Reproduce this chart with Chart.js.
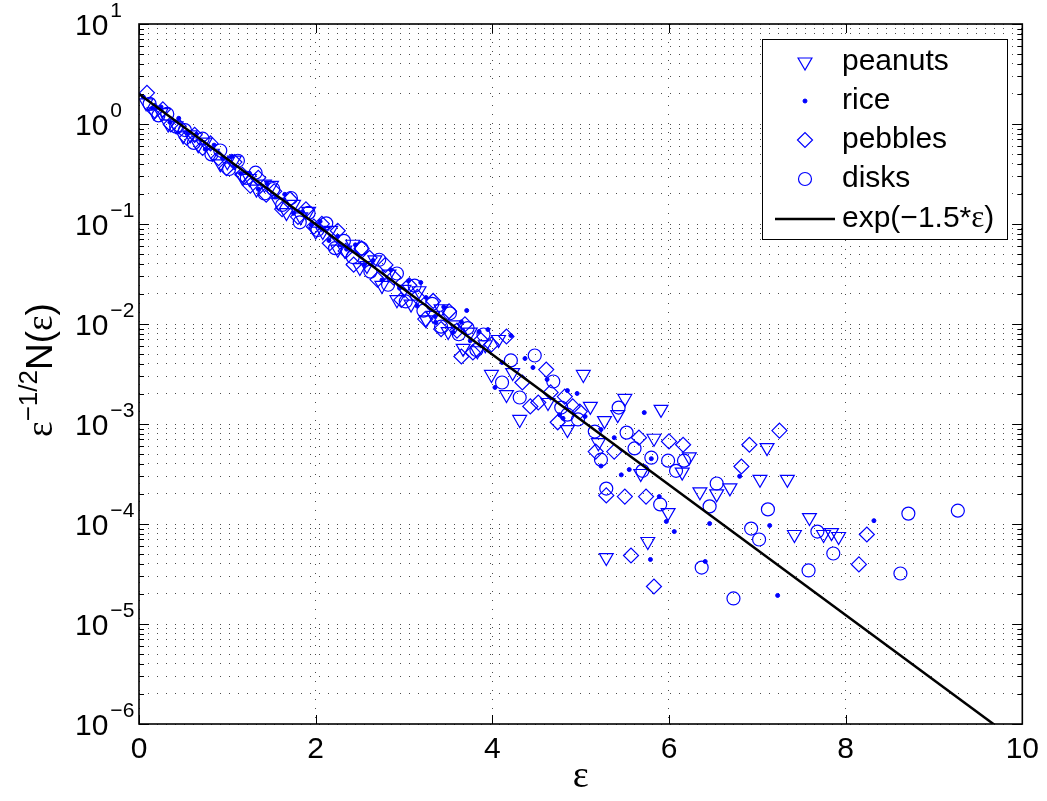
<!DOCTYPE html>
<html>
<head>
<meta charset="utf-8">
<script src="https://cdn.jsdelivr.net/npm/chart.js@4.4.0/dist/chart.umd.min.js"></script>
<style>
html,body{margin:0;padding:0;background:#fff;}
#wrap{width:1047px;height:801px;position:relative;}
</style>
</head>
<body>
<div id="wrap"><canvas id="c" width="1047" height="801"></canvas></div>
<script>
// ---------------- data ----------------
const peanutsX = [0.08,0.17,0.25,0.33,0.42,0.50,0.58,0.67,0.75,0.83,0.92,1.00,1.08,1.17,1.25,1.33,1.42,1.50,1.58,1.67,
  1.75,1.83,1.92,2.00,2.08,2.17,2.25,2.33,2.42,2.50,2.58,2.67,2.75,2.83,2.92,3.00,3.08,3.17,3.25,3.33,
  3.42,3.50,3.58,3.67,3.75,3.83,3.92,
  3.99,4.07,4.16,4.23,4.31,4.63,4.85,5.03,5.11,5.20,5.27,5.29,5.42,5.50,5.68,5.76,5.83,5.91,5.99,6.15,
  6.23,6.35,6.54,6.69,7.03,7.11,7.34,7.42,7.59,7.75,7.84,7.92];
const peanutsY = [1.63,1.32,1.30,1.00,0.96,0.76,0.78,0.62,0.66,0.51,0.40,0.42,0.435,0.294,0.285,0.223,0.25,0.243,0.165,0.130,
  0.157,0.118,0.134,0.085,0.084,0.0865,0.056,0.0547,0.0627,0.0367,0.0384,0.0438,0.0243,0.0315,0.0175,0.0222,0.0158,0.0215,0.0110,0.0122,
  0.0142,0.0084,0.0098,0.0057,0.0083,0.0054,0.0062,
  0.00313,0.0070,0.00197,0.00327,0.00111,0.00164,0.00088,0.00313,0.0015,0.00065,0.00108,0.0000462,0.00124,0.0018,0.00032,0.0000668,0.00072,0.0014,0.00013,0.00033,
  0.00047,0.00021,0.0002,0.00023,0.00028,0.00058,0.00028,0.0000785,0.000116,0.0000785,0.000082,0.000075];

const riceX = [0.05,0.15,0.25,0.35,0.45,0.55,0.65,0.75,0.85,0.95,1.05,1.15,1.25,1.35,1.45,1.55,1.65,1.75,1.85,1.95,
  2.05,2.15,2.25,2.35,2.45,2.55,2.65,2.75,2.85,2.95,3.05,3.15,3.25,3.35,3.45,3.55,3.65,3.75,3.85,
  3.19,3.36,3.71,
  3.95,4.03,4.11,4.21,4.37,4.46,4.62,4.76,4.80,4.85,4.96,5.05,5.23,5.23,5.38,5.46,5.55,5.72,5.79,5.80,
  5.89,5.97,6.06,6.41,6.46,6.80,7.14,7.23,8.32];
const riceY = [1.86,1.44,1.48,1.04,1.14,0.81,0.79,0.56,0.615,0.457,0.476,0.32,0.322,0.224,0.254,0.186,0.198,0.128,0.1325,0.0985,
  0.106,0.0684,0.0754,0.056,0.0619,0.0393,0.0432,0.0275,0.0349,0.0228,0.0269,0.0151,0.0184,0.0119,0.0148,0.0082,0.0105,0.0068,0.0084,
  0.026,0.01035,0.01365,
  0.0088,0.00232,0.00412,0.00767,0.00452,0.00367,0.00279,0.00124,0.00114,0.00216,0.00202,0.00119,0.00088,0.00038,0.00073,0.00031,0.00035,0.0013,0.0000442,0.00045,
  0.000188,0.000106,0.000084,0.0000422,0.000101,0.0003,0.0000966,0.0000193,0.000108];

const pebblesX = [0.09,0.18,0.27,0.36,0.45,0.54,0.63,0.72,0.81,0.90,0.99,1.08,1.17,1.26,1.35,1.44,1.53,1.62,1.71,1.80,
  1.89,1.98,2.07,2.16,2.25,2.34,2.43,2.52,2.61,2.70,2.79,2.88,2.97,3.06,3.15,3.24,3.33,3.42,3.51,3.60,
  3.69,3.78,3.87,
  3.65,3.99,4.16,4.34,4.43,4.52,4.61,4.66,4.74,4.82,4.91,4.99,5.17,5.29,5.38,5.50,5.57,5.66,5.74,5.83,
  6.00,6.16,6.82,6.91,7.25,8.15,8.24];
const pebblesY = [2.05,1.35,1.40,0.99,0.95,0.73,0.78,0.578,0.64,0.456,0.362,0.416,0.311,0.242,0.29,0.196,0.212,0.141,0.177,0.118,
  0.140,0.094,0.1004,0.0642,0.0856,0.0538,0.0392,0.057,0.0459,0.0278,0.039,0.0293,0.0174,0.0244,0.0187,0.0112,0.017,0.0089,0.0134,0.0086,
  0.0099,0.0052,0.0069,
  0.00473,0.00624,0.0075,0.0026,0.0015,0.00164,0.0035,0.00207,0.00104,0.00188,0.0015,0.00133,0.00053,0.000193,0.00053,0.000188,0.0000484,0.00073,0.000188,0.0000237,
  0.00067,0.00062,0.000376,0.00062,0.00086,0.0000394,0.0000785];

const disksX = [0.12,0.22,0.32,0.42,0.52,0.62,0.72,0.82,0.92,1.02,1.12,1.22,1.32,1.42,1.52,1.62,1.72,1.82,1.92,2.02,
  2.12,2.22,2.32,2.42,2.52,2.62,2.72,2.82,2.92,3.02,3.12,3.22,3.32,3.42,3.52,3.62,3.72,3.82,
  3.90,4.11,4.21,4.31,4.48,4.69,4.78,4.85,4.97,5.16,5.23,5.29,5.43,5.52,5.61,5.70,5.80,5.90,5.99,6.08,
  6.17,6.37,6.46,6.54,6.73,6.93,7.02,7.12,7.58,7.68,7.86,8.62,8.71,9.27];
const disksY = [1.59,1.22,1.26,0.94,0.87,0.647,0.713,0.496,0.543,0.355,0.429,0.289,0.326,0.202,0.224,0.155,0.182,0.104,0.129,0.087,
  0.1015,0.0573,0.0678,0.0467,0.057,0.0334,0.0439,0.0247,0.032,0.0168,0.0242,0.0136,0.0159,0.0094,0.0128,0.0079,0.0091,0.0055,
  0.00785,0.0026,0.00432,0.00184,0.00484,0.00266,0.00146,0.00124,0.00111,0.00084,0.00044,0.000226,0.00146,0.00082,0.00057,0.00034,0.00046,0.000157,0.00043,0.00034,
  0.00043,0.0000367,0.00015,0.000254,0.000018,0.00009,0.00007,0.00014,0.0000343,0.000084,0.0000507,0.000032,0.000127,0.000136];

const fitX = [0, 10];
const fitY = [2.0, 6.12e-7];

const seriesLabels = ['peanuts', 'rice', 'pebbles', 'disks', 'exp(\u22121.5*\u03b5)'];
const xTicks = [0, 2, 4, 6, 8, 10];
const yDecades = [-6, -5, -4, -3, -2, -1, 0, 1];

// ---------------- helpers ----------------
function pts(xs, ys) {
  const n = Math.min(xs.length, ys.length), out = [];
  for (let i = 0; i < n; i++) out.push({x: xs[i], y: ys[i]});
  return out;
}
const yGridVals = [];
yDecades.forEach(k => {
  if (k < yDecades[yDecades.length - 1]) {
    for (let m = 1; m <= 9; m++) yGridVals.push(parseFloat((m * Math.pow(10, k)).toPrecision(6)));
  } else {
    yGridVals.push(Math.pow(10, k));
  }
});

const BLUE = '#0000ff';
const SANS = '"Liberation Sans", Arial, Helvetica, sans-serif';
const SERIF = '"Liberation Serif", "Times New Roman", serif';

const markerStyles = [
  {pointStyle: 'triangle', rotation: 180, radius: 8, borderWidth: 1.2, fill: false},
  {pointStyle: 'circle', rotation: 0, radius: 2, borderWidth: 1, fill: true},
  {pointStyle: 'rectRot', rotation: 0, radius: 7.5, borderWidth: 1.2, fill: false},
  {pointStyle: 'circle', rotation: 0, radius: 6.5, borderWidth: 1.2, fill: false}
];

function scatterSet(label, xs, ys, st, order) {
  return {
    type: 'scatter', label, data: pts(xs, ys), order,
    pointStyle: st.pointStyle, rotation: st.rotation, pointRadius: st.radius,
    pointBorderWidth: st.borderWidth, borderColor: BLUE, pointBorderColor: BLUE,
    pointBackgroundColor: st.fill ? BLUE : 'rgba(0,0,0,0)', backgroundColor: st.fill ? BLUE : 'rgba(0,0,0,0)',
    showLine: false
  };
}

const matlabPlugin = {
  id: 'matlabAxes',
  afterDraw(chart) {
    const ctx = chart.ctx, a = chart.chartArea, xs = chart.scales.x, ys = chart.scales.y;
    ctx.save();
    // inward ticks
    ctx.strokeStyle = '#000';
    ctx.lineWidth = 1;
    ctx.beginPath();
    xTicks.forEach(v => {
      const px = Math.round(xs.getPixelForValue(v)) + 0.5;
      ctx.moveTo(px, a.bottom); ctx.lineTo(px, a.bottom - 9);
      ctx.moveTo(px, a.top); ctx.lineTo(px, a.top + 9);
    });
    yGridVals.forEach(v => {
      const py = Math.round(ys.getPixelForValue(v)) + 0.5;
      const lg = Math.log10(v);
      const major = Math.abs(lg - Math.round(lg)) < 1e-6;
      const L = major ? 10 : 5;
      ctx.moveTo(a.left, py); ctx.lineTo(a.left + L, py);
      ctx.moveTo(a.right, py); ctx.lineTo(a.right - L, py);
    });
    ctx.stroke();
    // frame
    ctx.lineWidth = 1.6;
    ctx.strokeRect(a.left, a.top, a.right - a.left, a.bottom - a.top);

    // y tick labels 10^k
    ctx.fillStyle = '#000';
    ctx.textAlign = 'left';
    ctx.textBaseline = 'alphabetic';
    yDecades.forEach(k => {
      const py = ys.getPixelForValue(Math.pow(10, k));
      ctx.font = '30px ' + SANS;
      ctx.fillText('10', 75, py + 11);
      const w = ctx.measureText('10').width;
      ctx.font = '21px ' + SANS;
      ctx.fillText(k < 0 ? '\u2212' + Math.abs(k) : String(k), 75 + w + 2, py - 7);
    });

    // y axis title: eps^{-1/2} N(eps)
    const parts = [
      {t: '\u03b5', f: '37px ' + SERIF, dy: 0},
      {t: '\u22121/2', f: '26px ' + SANS, dy: -15},
      {t: 'N(', f: '37px ' + SANS, dy: 0},
      {t: '\u03b5', f: '37px ' + SERIF, dy: 0},
      {t: ')', f: '37px ' + SANS, dy: 0}
    ];
    let total = 0;
    parts.forEach(p => { ctx.font = p.f; p.w = ctx.measureText(p.t).width; total += p.w; });
    ctx.translate(52, 370);
    ctx.rotate(-Math.PI / 2);
    let cx = -total / 2;
    parts.forEach(p => { ctx.font = p.f; ctx.fillText(p.t, cx, p.dy); cx += p.w; });
    ctx.setTransform(1, 0, 0, 1, 0, 0);

    // legend
    const lx = 762, ly = 39, lw = 245, lh = 200;
    ctx.fillStyle = '#fff';
    ctx.fillRect(lx, ly, lw, lh);
    ctx.strokeStyle = '#000';
    ctx.lineWidth = 1;
    ctx.strokeRect(lx + 0.5, ly + 0.5, lw, lh);
    const rows = [62, 101, 140, 179, 219];
    const mx = 805, tx = 842;
    markerStyles.forEach((st, i) => {
      ctx.strokeStyle = BLUE;
      ctx.fillStyle = st.fill ? BLUE : 'rgba(0,0,0,0)';
      ctx.lineWidth = st.borderWidth;
      Chart.helpers.drawPoint(ctx, {pointStyle: st.pointStyle, rotation: st.rotation, radius: st.radius, borderWidth: st.borderWidth}, mx, rows[i]);
    });
    ctx.strokeStyle = '#000';
    ctx.lineWidth = 2.5;
    ctx.beginPath();
    ctx.moveTo(775, rows[4]); ctx.lineTo(835, rows[4]);
    ctx.stroke();
    ctx.fillStyle = '#000';
    ctx.textBaseline = 'middle';
    ctx.font = '30px ' + SANS;
    for (let i = 0; i < 4; i++) ctx.fillText(seriesLabels[i], tx, rows[i]);
    // exp(−1.5*ε) with a serif epsilon
    const lbl = seriesLabels[4];
    const segs = [{t: lbl.slice(0, lbl.length - 2), f: '30px ' + SANS}, {t: lbl.slice(-2, -1), f: '31px ' + SERIF}, {t: lbl.slice(-1), f: '30px ' + SANS}];
    let ex = tx;
    segs.forEach(s => { ctx.font = s.f; ctx.fillText(s.t, ex, rows[4]); ex += ctx.measureText(s.t).width; });
    ctx.restore();
  }
};

const gridColor = 'rgba(0,0,0,0.7)';

new Chart(document.getElementById('c'), {
  data: {
    datasets: [
      {type: 'line', label: seriesLabels[4], data: pts(fitX, fitY), order: 0,
       borderColor: '#000', borderWidth: 2.5, pointRadius: 0, fill: false, tension: 0},
      scatterSet(seriesLabels[3], disksX, disksY, markerStyles[3], 1),
      scatterSet(seriesLabels[2], pebblesX, pebblesY, markerStyles[2], 2),
      scatterSet(seriesLabels[1], riceX, riceY, markerStyles[1], 3),
      scatterSet(seriesLabels[0], peanutsX, peanutsY, markerStyles[0], 4)
    ]
  },
  options: {
    responsive: false,
    animation: false,
    events: [],
    layout: {padding: {left: 0, top: 24, right: 20, bottom: 0}},
    plugins: {legend: {display: false}, tooltip: {enabled: false}},
    scales: {
      x: {
        type: 'linear', position: 'bottom', min: 0, max: 10,
        ticks: {stepSize: 2, color: '#000', font: {family: SANS, size: 30}, padding: 8, maxRotation: 0, autoSkip: false},
        grid: {color: gridColor, lineWidth: 1, drawTicks: false},
        border: {display: false, dash: [1, 8]},
        title: {display: true, text: '\u03b5', color: '#000', font: {family: SERIF, size: 38}, padding: {top: 0, bottom: 1}},
        afterFit: s => { s.height = 77; }
      },
      y: {
        type: 'logarithmic', position: 'left', min: 1e-6, max: 10,
        ticks: {display: false, autoSkip: false},
        afterBuildTicks: s => { s.ticks = yGridVals.map(v => ({value: v})); },
        grid: {color: gridColor, lineWidth: 1, drawTicks: false},
        border: {display: false, dash: [1, 8]},
        afterFit: s => { s.width = 139; }
      }
    }
  },
  plugins: [matlabPlugin]
});
</script>
</body>
</html>
